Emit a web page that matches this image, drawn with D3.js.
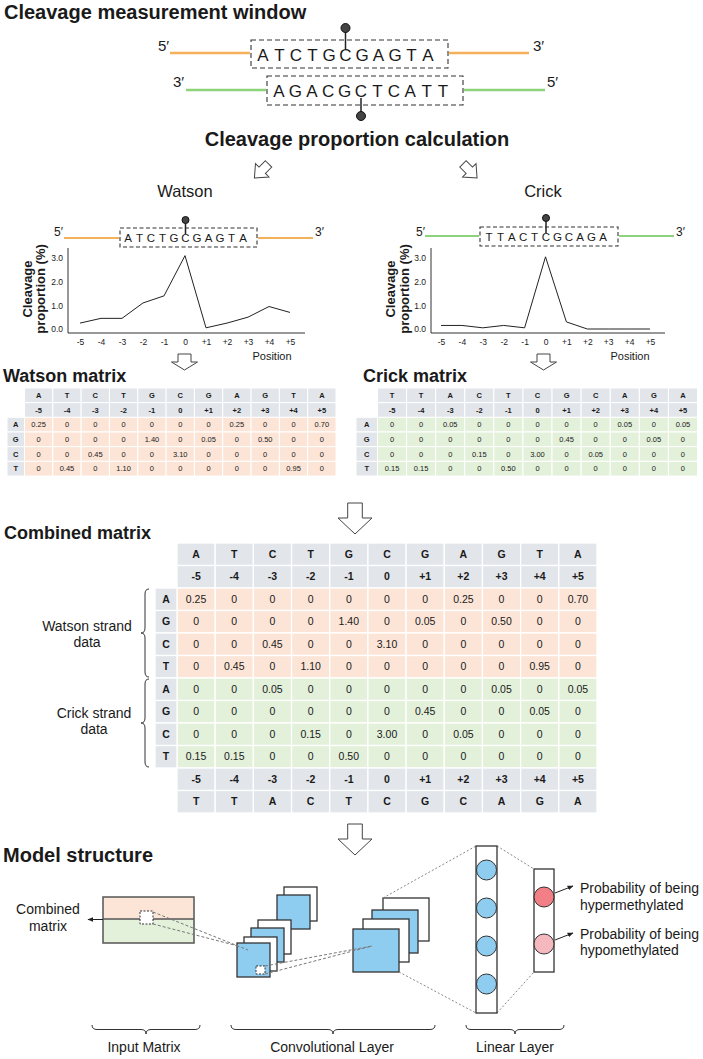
<!DOCTYPE html>
<html><head><meta charset="utf-8">
<script src="https://cdn.jsdelivr.net/npm/d3@7"></script>
<style>
body{margin:0;background:#fff;}
svg{display:block;font-family:"Liberation Sans",Arial,sans-serif;}
</style></head>
<body>
<script>
// ---------------- DATA ----------------
const positions = ["-5","-4","-3","-2","-1","0","+1","+2","+3","+4","+5"];
const watsonBases = ["A","T","C","T","G","C","G","A","G","T","A"];
const crickBases = ["T","T","A","C","T","C","G","C","A","G","A"];
const crickTopStrand = ["A","G","A","C","G","C","T","C","A","T","T"];
const nucleotides = ["A","G","C","T"];
const watsonA = [0.25,0,0,0,0,0,0,0.25,0,0,0.70];
const watsonG = [0,0,0,0,1.40,0,0.05,0,0.50,0,0];
const watsonC = [0,0,0.45,0,0,3.10,0,0,0,0,0];
const watsonT = [0,0.45,0,1.10,0,0,0,0,0,0.95,0];
const crickA = [0,0,0.05,0,0,0,0,0,0.05,0,0.05];
const crickG = [0,0,0,0,0,0,0.45,0,0,0.05,0];
const crickC = [0,0,0,0.15,0,3.00,0,0.05,0,0,0];
const crickT = [0.15,0.15,0,0,0.50,0,0,0,0,0,0];
const watsonProfile = [0.25,0.45,0.45,1.10,1.40,3.10,0.05,0.25,0.50,0.95,0.70];
const crickProfile = [0.15,0.15,0.05,0.15,0.05,3.05,0.30,0,0,0,0];
const yTicks = [0,1,2,3];

// ---------------- STYLE ----------------
const C = {text:"#1a1a1a", orange:"#f5b05a", green:"#8fd27c", head:"#e2e5ea",
  peach:"#fce5d7", mint:"#e3f0da", blue:"#8fcdf0", red:"#f27e86", pink:"#f5b8bf"};

const svg = d3.select("body").append("svg").attr("width",703).attr("height",1059);
const defs = svg.append("defs");
defs.append("marker").attr("id","ah").attr("viewBox","0 0 10 10").attr("refX",9).attr("refY",5)
  .attr("markerWidth",6).attr("markerHeight",6).attr("orient","auto-start-reverse")
  .append("path").attr("d","M0,1 L10,5 L0,9 z").attr("fill","#222");

function txt(g,x,y,s,o={}){
  return g.append("text").attr("x",x).attr("y",y).text(s)
    .attr("font-size",o.fs||12).attr("font-weight",o.bold?"bold":"normal")
    .attr("text-anchor",o.anchor||"start").attr("fill",o.fill||C.text);
}
function line(g,x1,y1,x2,y2,stroke,w,dash){
  const l=g.append("line").attr("x1",x1).attr("y1",y1).attr("x2",x2).attr("y2",y2)
    .attr("stroke",stroke).attr("stroke-width",w);
  if(dash) l.attr("stroke-dasharray",dash);
  return l;
}
function blockArrow(g,cx,cy,sh,hh,sl,hl,rot){
  const L=sl+hl, t=-L/2;
  const p=[[-sh,t],[sh,t],[sh,t+sl],[hh,t+sl],[0,t+L],[-hh,t+sl],[-sh,t+sl]];
  g.append("path").attr("d","M"+p.map(d=>d.join(",")).join("L")+"Z")
    .attr("fill","#fff").attr("stroke","#444").attr("stroke-width",1)
    .attr("transform",`translate(${cx},${cy}) rotate(${rot||0})`);
}
function vBrace(g,x,y0,y1,d,r){
  const m=(y0+y1)/2, h=x-d/2;
  g.append("path").attr("d",`M${x},${y0} Q${h},${y0} ${h},${y0+r} L${h},${m-r} Q${h},${m} ${x-d},${m} Q${h},${m} ${h},${m+r} L${h},${y1-r} Q${h},${y1} ${x},${y1}`)
   .attr("fill","none").attr("stroke","#333").attr("stroke-width",1);
}
function hBrace(g,x0,x1,y,d,r){
  const m=(x0+x1)/2, v=y+d/2;
  g.append("path").attr("d",`M${x0},${y} Q${x0},${v} ${x0+r},${v} L${m-r},${v} Q${m},${v} ${m},${y+d} Q${m},${v} ${m+r},${v} L${x1-r},${v} Q${x1},${v} ${x1},${y}`)
   .attr("fill","none").attr("stroke","#333").attr("stroke-width",1);
}

function strand(g,o){
  const xs=d3.scalePoint().domain(d3.range(o.letters.length)).range([o.l0,o.l1]);
  txt(g,o.leftLabX,o.labY,o.leftLab,{fs:o.labFs});
  line(g,o.line1[0],o.lineY,o.line1[1],o.lineY,o.color,o.lw);
  line(g,o.line2[0],o.lineY,o.line2[1],o.lineY,o.color,o.lw);
  txt(g,o.rightLabX,o.labY,o.rightLab,{fs:o.labFs});
  g.append("rect").attr("x",o.box[0]).attr("y",o.box[1]).attr("width",o.box[2]).attr("height",o.box[3])
    .attr("fill","none").attr("stroke","#333").attr("stroke-width",1.1).attr("stroke-dasharray",o.dash);
  g.selectAll(null).data(o.letters).join("text").attr("x",(d,i)=>xs(i)).attr("y",o.baseY)
    .attr("text-anchor","middle").attr("font-size",o.fs).attr("fill",C.text).text(d=>d);
  const cx=xs(o.mark);
  line(g,cx,o.stem[0],cx,o.stem[1],"#222",1.5);
  g.append("circle").attr("cx",cx).attr("cy",o.cy).attr("r",o.r).attr("fill","#444").attr("stroke","#111").attr("stroke-width",1);
}

// ---------------- SECTION 1 ----------------
const s1=svg.append("g");
txt(s1,4,19,"Cleavage measurement window",{fs:20,bold:true});
strand(s1,{letters:watsonBases,l0:263,l1:428,baseY:61,fs:17,mark:5,leftLab:"5\u2032",rightLab:"3\u2032",
  leftLabX:158,rightLabX:533,labY:51,labFs:15,line1:[170,250],line2:[449,529],lineY:53,color:C.orange,lw:2.5,
  box:[251,40,197,28],dash:"5,3",stem:[32,49],cy:28,r:4.5});
strand(s1,{letters:crickTopStrand,l0:279,l1:443,baseY:97,fs:17,mark:5,leftLab:"3\u2032",rightLab:"5\u2032",
  leftLabX:173,rightLabX:547,labY:87,labFs:15,line1:[186,266],line2:[464,545],lineY:90,color:C.green,lw:2.5,
  box:[267,76,196,29],dash:"5,3",stem:[98,112],cy:116,r:4.5});
txt(s1,357,146,"Cleavage proportion calculation",{fs:20,bold:true,anchor:"middle"});
blockArrow(s1,261.5,171,4.5,9.5,9,11,45);
blockArrow(s1,470,171,4.5,9.5,9,11,-45);

// ---------------- PROFILE PLOTS ----------------
function profile(o){
  const g=svg.append("g");
  txt(g,o.titleX,197,o.title,{fs:16.5,anchor:"middle"});
  strand(g,{letters:o.letters,l0:o.l0,l1:o.l1,baseY:o.baseY,fs:11.5,mark:5,leftLab:"5\u2032",rightLab:"3\u2032",
    leftLabX:o.lab5,rightLabX:o.lab3,labY:236,labFs:12,line1:o.line1,line2:o.line2,lineY:o.lineY,color:o.color,lw:2,
    box:o.box,dash:"4,2.5",stem:[o.cy+3,o.baseY-8],cy:o.cy,r:3.5});
  const x=d3.scalePoint().domain(positions).range(o.xr);
  const y=d3.scaleLinear().domain([0,3]).range([329,258]);
  line(g,o.ax,248,o.ax,333,"#333",1);
  line(g,o.ax,333,o.axEnd,333,"#333",1);
  const ya=g.append("g").attr("transform",`translate(${o.ax},0)`)
    .call(d3.axisLeft(y).tickValues(yTicks).tickFormat(d3.format(".1f")).tickSize(0).tickPadding(5));
  const xa=g.append("g").attr("transform","translate(0,333)")
    .call(d3.axisBottom(x).tickSize(0).tickPadding(6));
  [ya,xa].forEach(a=>{a.select(".domain").remove();a.selectAll("text").attr("font-size",8.5).attr("fill",C.text)
    .attr("font-family","Liberation Sans, Arial, sans-serif");});
  g.append("path").datum(o.values).attr("fill","none").attr("stroke","#222").attr("stroke-width",1)
    .attr("d",d3.line().x((d,i)=>x(positions[i])).y(d=>y(d)));
  [["Cleavage",o.yl1],["proportion (%)",o.yl2]].forEach(([s,xx])=>{
    g.append("text").attr("transform",`translate(${xx},289) rotate(-90)`).attr("text-anchor","middle")
      .attr("font-size",13).attr("font-weight","bold").attr("fill",C.text).text(s);
  });
  txt(g,o.posX,360,"Position",{fs:11,anchor:"middle"});
  blockArrow(g,o.arrX,362,6.5,13,8,8,0);
}
profile({title:"Watson",titleX:185,letters:watsonBases,l0:128,l1:243,baseY:242,lab5:54,lab3:315,
  line1:[64,119],line2:[258,313],lineY:238,color:C.orange,box:[120,228,137,19],cy:220,
  xr:[80,290],ax:68,axEnd:305,values:watsonProfile,yl1:32,yl2:45,posX:272,arrX:184.5});
profile({title:"Crick",titleX:543,letters:crickBases,l0:489,l1:603,baseY:241,lab5:416,lab3:676,
  line1:[425,479],line2:[619,674],lineY:236,color:C.green,box:[480,227,138,19],cy:218,
  xr:[441,650],ax:431,axEnd:665,values:crickProfile,yl1:395,yl2:409,posX:630,arrX:543.5});

// ---------------- MATRICES ----------------
const fmt=v=>v===0?"0":v.toFixed(2);
function drawMatrix(o){
  const g=svg.append("g");
  const x=d3.scaleBand().domain(positions).range(o.xr);
  const y=d3.scaleBand().domain(o.rows.map(r=>r.key)).range(o.yr);
  o.rows.forEach(r=>{
    const isHead=!!r.labels;
    const vals=isHead?r.labels:r.values.map(fmt);
    g.selectAll(null).data(positions).join("rect")
      .attr("x",d=>x(d)).attr("y",y(r.key)).attr("width",x.bandwidth()).attr("height",y.bandwidth())
      .attr("fill",isHead?C.head:r.fill).attr("stroke","#fff").attr("stroke-width",o.sw);
    g.selectAll(null).data(vals).join("text")
      .attr("x",(d,i)=>x(positions[i])+x.bandwidth()/2).attr("y",y(r.key)+y.bandwidth()/2).attr("dy","0.35em")
      .attr("text-anchor","middle").attr("font-size",o.fs).attr("font-weight",isHead?"bold":"normal")
      .attr("fill",C.text).text(d=>d);
    if(!isHead){
      g.append("rect").attr("x",o.lab[0]).attr("y",y(r.key)).attr("width",o.lab[1]-o.lab[0]).attr("height",y.bandwidth())
        .attr("fill",C.head).attr("stroke","#fff").attr("stroke-width",o.sw);
      g.append("text").attr("x",(o.lab[0]+o.lab[1])/2).attr("y",y(r.key)+y.bandwidth()/2).attr("dy","0.35em")
        .attr("text-anchor","middle").attr("font-size",o.fs).attr("font-weight","bold").attr("fill",C.text).text(r.nuc);
    }
  });
  return {g,y};
}
const watsonRows=[watsonA,watsonG,watsonC,watsonT].map((v,i)=>({key:"w"+i,nuc:nucleotides[i],values:v,fill:C.peach}));
const crickRows=[crickA,crickG,crickC,crickT].map((v,i)=>({key:"c"+i,nuc:nucleotides[i],values:v,fill:C.mint}));

txt(svg,3,382,"Watson matrix",{fs:18,bold:true});
drawMatrix({xr:[24.5,336],yr:[388,476],lab:[7,24.5],fs:7.5,sw:1,
  rows:[{key:"b",labels:watsonBases},{key:"p",labels:positions},...watsonRows]});
txt(svg,363,382,"Crick matrix",{fs:18,bold:true});
drawMatrix({xr:[377.5,697.5],yr:[388,476],lab:[356,377.5],fs:7.5,sw:1,
  rows:[{key:"b",labels:crickBases},{key:"p",labels:positions},...crickRows]});

// combined
const cg=svg.append("g");
blockArrow(cg,355,518.5,7.3,17,15,16,0);
txt(cg,4,539,"Combined matrix",{fs:18,bold:true});
drawMatrix({xr:[177,597],yr:[543,813],lab:[155,177],fs:10.5,sw:1.3,
  rows:[{key:"b",labels:watsonBases},{key:"p",labels:positions},...watsonRows,...crickRows,
        {key:"p2",labels:positions},{key:"b2",labels:crickBases}]});
vBrace(cg,149,589,677,8,5);
vBrace(cg,149,679,767,8,5);
txt(cg,87,631,"Watson strand",{fs:14,anchor:"middle"});
txt(cg,87,647,"data",{fs:14,anchor:"middle"});
txt(cg,94,718,"Crick strand",{fs:14,anchor:"middle"});
txt(cg,94,734,"data",{fs:14,anchor:"middle"});
blockArrow(cg,355,839.5,7.3,17,15,16,0);

// ---------------- MODEL STRUCTURE ----------------
const m=svg.append("g");
txt(m,3,862,"Model structure",{fs:20,bold:true});
m.append("rect").attr("x",103).attr("y",897).attr("width",91).attr("height",22).attr("fill",C.peach);
m.append("rect").attr("x",103).attr("y",919).attr("width",91).attr("height",24).attr("fill",C.mint);
line(m,103,919,194,919,"#555",1.3);
m.append("rect").attr("x",103).attr("y",897).attr("width",91).attr("height",46).attr("fill","none").attr("stroke","#555").attr("stroke-width",1.5);
m.append("rect").attr("x",140).attr("y",911).attr("width",13).attr("height",13).attr("fill","#fff")
  .attr("stroke","#333").attr("stroke-dasharray","2,1.5");
line(m,103,919.5,88,919.5,"#222",1).attr("marker-end","url(#ah)");
txt(m,48,914,"Combined",{fs:14,anchor:"middle"});
txt(m,48,931,"matrix",{fs:14,anchor:"middle"});

function stack(list,w,h){
  list.forEach(s=>m.append("rect").attr("x",s[0]).attr("y",s[1]).attr("width",w).attr("height",h)
    .attr("fill",s[2]?C.blue:"#fff").attr("stroke","#333").attr("stroke-width",1.3));
}
stack([[284,887,0],[277,895,1]],33,34);
stack([[258,920,0],[251,928,1],[244,937,0],[237,943,1]],33,34);
line(m,153,912,248,950,"#777",1,"3,2");
line(m,153,924,238,946,"#777",1,"3,2");
m.append("rect").attr("x",256).attr("y",966).attr("width",9).attr("height",8).attr("fill","#fff")
  .attr("stroke","#333").attr("stroke-dasharray","2,1.5");
stack([[383,898,0],[372,910,1],[363,919,0],[353,929,1]],46,43);
line(m,265,966,372,946,"#777",1,"3,2");
line(m,265,974,372,946,"#777",1,"3,2");
line(m,383,898,476,846,"#888",1,"2,2");
line(m,399,972,476,1013,"#888",1,"2,2");
line(m,497,846,534,869,"#888",1,"2,2");
line(m,497,1013,534,972,"#888",1,"2,2");
m.append("rect").attr("x",476).attr("y",846).attr("width",21).attr("height",167).attr("fill","#fff").attr("stroke","#333").attr("stroke-width",1.3);
[870,908,946,984].forEach(cy=>m.append("circle").attr("cx",486.5).attr("cy",cy).attr("r",10)
  .attr("fill",C.blue).attr("stroke","#333").attr("stroke-width",1));
m.append("rect").attr("x",534).attr("y",869).attr("width",20).attr("height",103).attr("fill","#fff").attr("stroke","#333").attr("stroke-width",1.3);
[[897,C.red],[944,C.pink]].forEach(([cy,f])=>m.append("circle").attr("cx",544).attr("cy",cy).attr("r",10)
  .attr("fill",f).attr("stroke","#333").attr("stroke-width",1));
line(m,555,893,573,886,"#222",1).attr("marker-end","url(#ah)");
line(m,555,940,573,933,"#222",1).attr("marker-end","url(#ah)");
txt(m,580,893,"Probability of being",{fs:14});
txt(m,580,910,"hypermethylated",{fs:14});
txt(m,580,939,"Probability of being",{fs:14});
txt(m,580,955,"hypomethylated",{fs:14});
hBrace(m,92,200,1025,9,5);
hBrace(m,231,435,1025,9,5);
hBrace(m,466,564,1025,9,5);
txt(m,144,1052,"Input Matrix",{fs:14,anchor:"middle"});
txt(m,332,1052,"Convolutional Layer",{fs:14,anchor:"middle"});
txt(m,515,1052,"Linear Layer",{fs:14,anchor:"middle"});
</script>
</body></html>
